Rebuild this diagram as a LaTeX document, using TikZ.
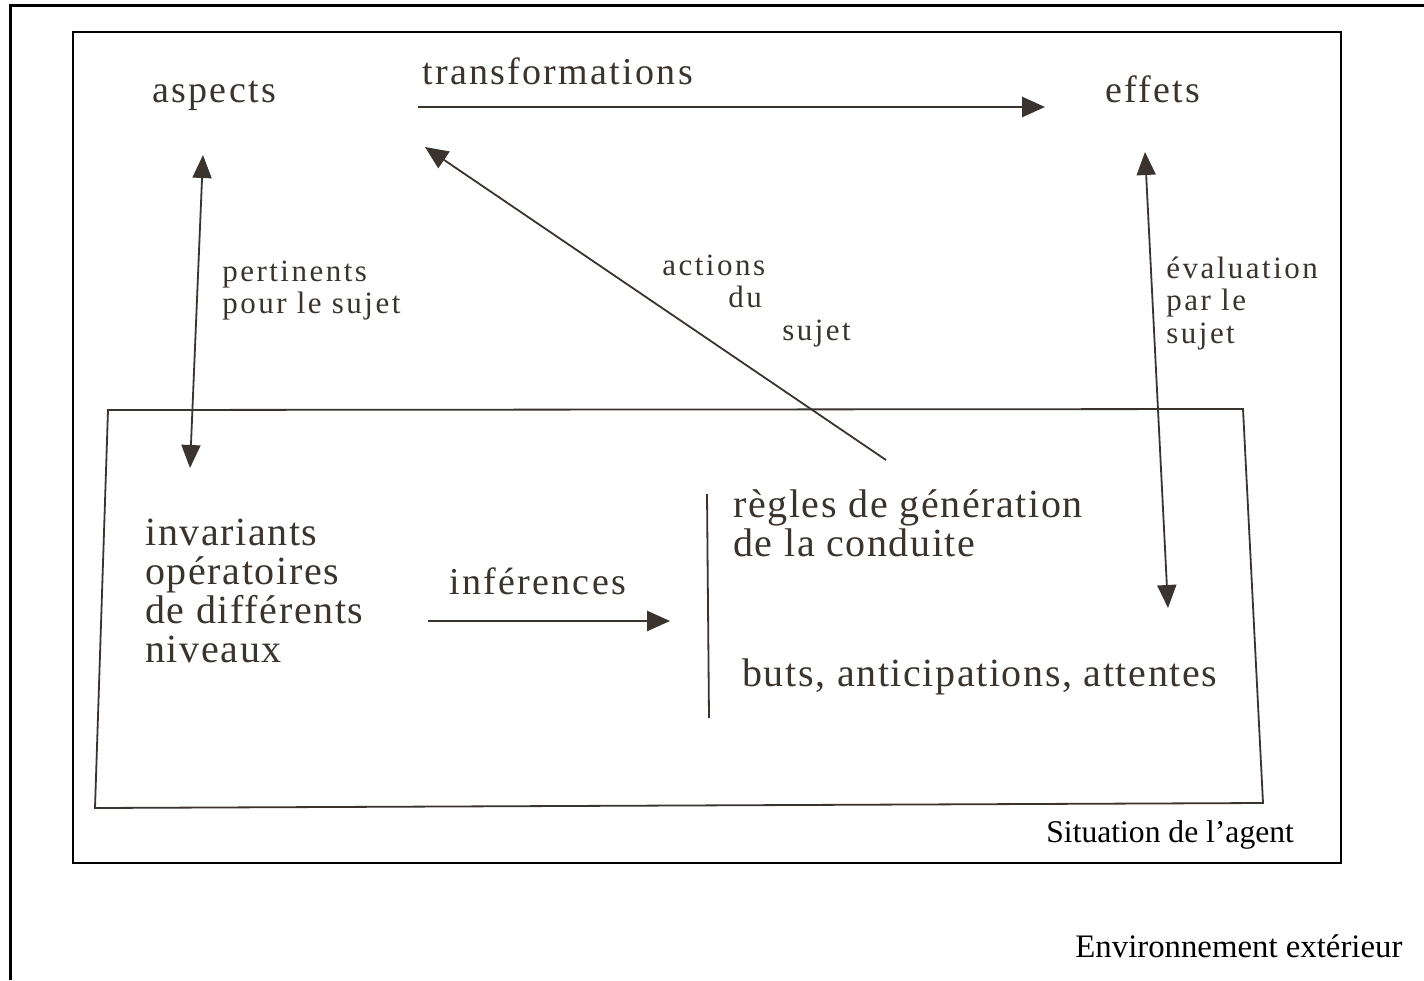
\documentclass[tikz,border=0pt]{standalone}
\usepackage{fontspec}
\setmainfont{Liberation Serif}
\newfontfamily\scanwide[LetterSpace=6]{Liberation Serif}
\newfontfamily\scanlbl[LetterSpace=8]{Liberation Serif}
\newfontfamily\scantight[LetterSpace=4]{Liberation Serif}
\usetikzlibrary{arrows.meta, positioning}
\definecolor{ink}{HTML}{3A332E}

\tikzset{
    word/.style={text=ink, inner sep=0pt, anchor=base west, font=\scanwide\fontsize{19}{20}\selectfont},
    lbl/.style={text=ink, inner sep=0pt, anchor=base west, align=left, font=\scanlbl\fontsize{15.5}{16.25}\selectfont},
    bigtxt/.style={text=ink, inner sep=0pt, anchor=base west, align=left, font=\scantight\fontsize{20}{19.5}\selectfont},
    frametxt/.style={inner sep=0pt, anchor=base west, font=\fontsize{15.8}{18}\selectfont},
    scanline/.style={draw=ink, line width=0.9pt},
    scanarrow/.style={scanline, -{Triangle[length=11.5pt,width=10pt]}},
    scanboth/.style={scanline, {Triangle[length=11.5pt,width=9.5pt]}-{Triangle[length=11.5pt,width=9.5pt]}},
}

\begin{document}
\begin{tikzpicture}[x=0.5pt, y=-0.5pt]
    \useasboundingbox (0,0) rectangle (1424,980);

    % frames
    \draw[line width=1.5pt] (1424,5) -- (10,5) -- (10,980);
    \draw[line width=1pt] (73,32) rectangle (1341,863);
    \draw[scanline] (108,410) -- (1243,409) -- (1263,803) -- (95,808) -- cycle;

    % top row (base of last line)
    \node[word]  (aspects) at (152,102) {aspects};
    \node[word]  (transf)  at (422,84)  {transformations};
    \node[word]  (effets)  at (1105,102) {effets};

    % side labels
    \node[lbl, font=\scanlbl\fontsize{15.5}{16}\selectfont] (pertin) at (222,313) {pertinents\\pour le sujet};
    \node[lbl]   (actions) at (662,340) {actions\\\hspace*{33pt}du\\\hspace*{60pt}sujet};
    \node[lbl]   (evalu)   at (1166,343) {évaluation\\par le\\sujet};

    % inner box
    \node[bigtxt] (invar)  at (145,662) {invariants\\opératoires\\de différents\\niveaux};
    \node[word]   (infer)  at (449,594) {inférences};
    \node[bigtxt] (regles) at (733,556) {règles de génération\\de la conduite};
    \node[bigtxt] (buts)   at (742,686) {buts, anticipations, attentes};

    % outer captions
    \node[frametxt] (situation) at (1046,842) {Situation de l’agent};
    \node[frametxt, font=\fontsize{16.4}{18}\selectfont] (envir) at (1075,957) {Environnement extérieur};

    % arrow ends
    \coordinate (transf-s) at (418,107);
    \coordinate (transf-e) at (1045,107);
    \coordinate (pertin-n) at (203,155);
    \coordinate (pertin-s) at (190,468);
    \coordinate (actions-s) at (886,460);
    \coordinate (actions-n) at (425,147);
    \coordinate (evalu-n) at (1145,152);
    \coordinate (evalu-s) at (1168,608);
    \coordinate (infer-w) at (428,621);
    \coordinate (infer-e) at (670,621);
    \coordinate (bar-n) at (707,494);
    \coordinate (bar-s) at (709,718);

    \draw[scanarrow, line width=1.4pt] (transf-s) -- (transf-e);
    \draw[scanboth] (pertin-n) -- (pertin-s);
    \draw[scanarrow] (actions-s) -- (actions-n);
    \draw[scanboth] (evalu-n) -- (evalu-s);
    \draw[scanarrow, line width=1.4pt] (infer-w) -- (infer-e);
    \draw[scanline] (bar-n) -- (bar-s);
\end{tikzpicture}
\end{document}
